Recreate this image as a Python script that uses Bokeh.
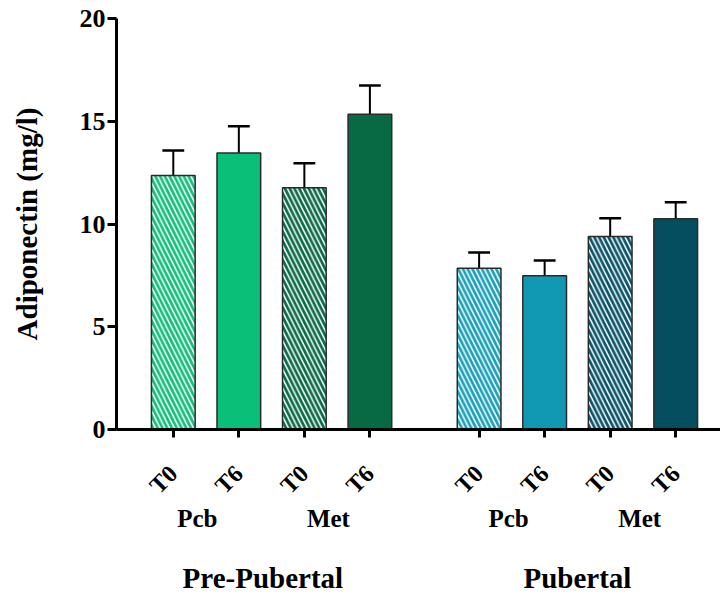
import math
from bokeh.plotting import figure
from bokeh.models import Range1d, FixedTicker, LinearAxis, ColumnDataSource
from bokeh.embed import file_html
from bokeh.resources import INLINE

# ---- data ----
groups = ["Pre-Pubertal", "Pubertal"]
treatments = ["Pcb", "Met"]
times = ["T0", "T6"]
means = [12.36, 13.46, 11.76, 15.34, 7.85, 7.48, 9.39, 10.25]
errors = [1.22, 1.30, 1.20, 1.40, 0.76, 0.74, 0.89, 0.81]
colors = ["#12bf7c", "#0ac078", "#0b6c48", "#086a45",
          "#1aa1b9", "#1199b4", "#0b5569", "#054e60"]
hatched = [True, False, True, False, True, False, True, False]

# ---- layout constants ----
SLOT = 3          # units per bar slot
GROUP_STEP = 14   # units between group starts
TR_NUDGE = [1.1, 1.35]   # label offsets per group (treatment labels)
GR_NUDGE = [4.1, 4.5]    # label offsets per group (group labels)

xs = []
for g in range(len(groups)):
    for t in range(len(treatments)):
        for k in range(len(times)):
            xs.append(g * GROUP_STEP + (t * 2 + k) * SLOT)
tick_text = {}
for i, x in enumerate(xs):
    tick_text[x] = times[i % 2]

tops = [m + e for m, e in zip(means, errors)]
src = ColumnDataSource(dict(
    x=xs, top=means, color=colors,
    hatch=["\\" if h else " " for h in hatched],
    etop=tops, cl=[x - 0.5 for x in xs], cr=[x + 0.5 for x in xs],
))

SERIF = "Liberation Serif"

p = figure(width=720, height=596, output_backend="svg", toolbar_location=None,
           x_range=Range1d(-2.6, 25.05), y_range=Range1d(0, 20),
           min_border_left=116, min_border_right=0, min_border_top=18,
           min_border_bottom=0, x_axis_location=None, y_axis_location=None)
p.outline_line_color = None
p.xgrid.visible = False
p.ygrid.visible = False
p.background_fill_color = "white"
p.border_fill_color = "white"

# error bars
p.segment(x0="x", y0="top", x1="x", y1="etop", source=src, line_color="black", line_width=2)
p.segment(x0="cl", y0="etop", x1="cr", y1="etop", source=src, line_color="black", line_width=2.5)

# bars
p.vbar(x="x", top="top", bottom=0, width=2.0, source=src, fill_color="color",
       line_color="#2a2a2a", line_width=1.5, hatch_pattern="hatch",
       hatch_color="white", hatch_scale=9.5, hatch_weight=1.5)

# y axis
yax = LinearAxis(ticker=FixedTicker(ticks=[0, 5, 10, 15, 20]))
yax.axis_label = "Adiponectin (mg/l)"
yax.axis_label_text_font = SERIF
yax.axis_label_text_font_style = "bold"
yax.axis_label_text_font_size = "29px"
yax.axis_label_text_color = "black"
yax.axis_label_standoff = 34
yax.major_label_text_font = SERIF
yax.major_label_text_font_style = "bold"
yax.major_label_text_font_size = "26px"
yax.major_label_text_color = "black"
yax.major_label_standoff = 2
yax.axis_line_width = 3
yax.major_tick_line_width = 3
yax.major_tick_out = 9
yax.major_tick_in = 0
yax.minor_tick_line_color = None
p.add_layout(yax, "left")

# x axis with T0/T6 labels
xax = LinearAxis(ticker=FixedTicker(ticks=xs))
xax.major_label_overrides = tick_text
xax.major_label_orientation = math.pi / 4
xax.major_label_text_font = SERIF
xax.major_label_text_font_style = "bold"
xax.major_label_text_font_size = "24px"
xax.major_label_text_color = "black"
xax.major_label_standoff = 32
xax.axis_line_width = 3
xax.major_tick_line_width = 3
xax.major_tick_out = 8
xax.major_tick_in = 0
xax.minor_tick_line_color = None
p.add_layout(xax, "below")

# treatment labels
tr_ticks = []
tr_text = {}
for g in range(len(groups)):
    for t in range(len(treatments)):
        c = g * GROUP_STEP + t * 2 * SLOT + TR_NUDGE[g]
        tr_ticks.append(c)
        tr_text[c] = treatments[t]
tax = LinearAxis(ticker=FixedTicker(ticks=tr_ticks))
tax.major_label_overrides = tr_text
tax.major_label_text_font = SERIF
tax.major_label_text_font_style = "bold"
tax.major_label_text_font_size = "25px"
tax.major_label_text_color = "black"
tax.major_label_standoff = -12
tax.axis_line_color = None
tax.major_tick_line_color = None
tax.minor_tick_line_color = None
p.add_layout(tax, "below")

# group labels
g_ticks = []
g_text = {}
for g in range(len(groups)):
    c = g * GROUP_STEP + GR_NUDGE[g]
    g_ticks.append(c)
    g_text[c] = groups[g]
gax = LinearAxis(ticker=FixedTicker(ticks=g_ticks))
gax.major_label_overrides = g_text
gax.major_label_text_font = SERIF
gax.major_label_text_font_style = "bold"
gax.major_label_text_font_size = "29px"
gax.major_label_text_color = "black"
gax.major_label_standoff = 21
gax.axis_line_color = None
gax.major_tick_line_color = None
gax.minor_tick_line_color = None
p.add_layout(gax, "below")

open("out.html", "w").write(file_html(p, INLINE))
